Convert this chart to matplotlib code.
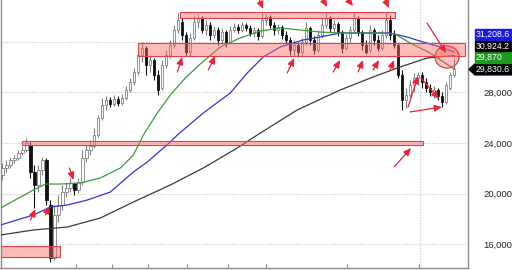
import matplotlib
matplotlib.use("Agg")
import matplotlib.pyplot as plt
import matplotlib.patches as mpatches
import numpy as np

plt.rcParams['font.family'] = ['Liberation Sans', 'DejaVu Sans']

# ---- price bars (one entry per bar) ----
opens = [21466, 22020, 22258, 22654, 22812, 23208, 23446, 23842, 21702, 20674,
         21862, 22654, 19090, 14892, 18298, 19090, 20120, 20436, 20832, 20278,
         20912, 22812, 23446, 23763, 24634, 25980, 27010, 27406, 27089, 27485,
         27168, 27564, 28198, 28832, 29624, 30970, 31524, 30178, 30574, 29386,
         28356, 30178, 30970, 31762, 32950, 33584, 32554, 31208, 32316, 33584,
         33900, 32950, 33346, 32554, 32950, 32158, 32792, 32000, 32950, 33188,
         32950, 33346, 33108, 32712, 32950, 32475, 33742, 33980, 33346, 32950,
         33188, 32554, 32158, 31366, 31762, 31208, 32000, 33108, 32158, 31366,
         32554, 33346, 33900, 33108, 33425, 32792, 31524, 32316, 32950, 33900,
         32792, 31762, 31366, 32950, 32158, 31524, 32554, 33742, 32554, 31762,
         29386, 27406, 27802, 28594, 29148, 29386, 28832, 28356, 28040, 28198,
         27723, 27248, 28356, 29386]
highs = [22416, 22654, 22892, 23050, 23446, 23763, 24396, 24080, 22258, 22258,
         22892, 22812, 19486, 19090, 19882, 20674, 20832, 21228, 20912, 21228,
         23446, 23842, 24238, 25188, 26218, 27564, 27723, 27644, 27802, 27723,
         27881, 28516, 29148, 29940, 31366, 32000, 31683, 30970, 30732, 29782,
         30574, 31366, 32158, 33346, 34296, 33900, 32792, 32712, 34138, 34217,
         34059, 33742, 33584, 33267, 33188, 33108, 32950, 33267, 33504, 33425,
         33584, 33504, 33346, 33188, 33108, 34376, 34217, 34138, 33584, 33425,
         33346, 32871, 32396, 32158, 32000, 32316, 33584, 33267, 32475, 32950,
         33900, 34296, 34059, 33742, 33584, 32950, 32633, 33267, 34296, 34059,
         32950, 32158, 33346, 33108, 32554, 32950, 34296, 34138, 32950, 31920,
         29782, 28356, 28990, 29544, 29624, 29624, 29148, 28673, 28516, 28356,
         28040, 28832, 29624, 30732]
lows = [21070, 21702, 22020, 22416, 22654, 23050, 23288, 21228, 18852, 20120,
        21466, 19090, 14576, 14734, 17744, 18694, 19724, 20120, 19882, 20040,
        20674, 22496, 23050, 23604, 24476, 25822, 26614, 26852, 26931, 26931,
        27010, 27406, 28040, 28594, 29386, 30416, 29386, 29624, 28990, 27802,
        28198, 29940, 30732, 31524, 32712, 32158, 30970, 30890, 32158, 33108,
        32712, 32554, 32158, 32316, 31762, 31841, 31604, 31841, 32792, 32712,
        32792, 32871, 32475, 32396, 32158, 32316, 33346, 33108, 32554, 32633,
        32237, 31920, 30970, 30890, 30812, 30970, 31762, 31762, 31049, 31208,
        32316, 33108, 32792, 32712, 32475, 31128, 31366, 32000, 32792, 32475,
        31366, 31049, 31208, 31762, 31287, 31366, 32316, 32158, 31524, 29148,
        26614, 26772, 27406, 28040, 28594, 28356, 28040, 27723, 27564, 27406,
        26852, 27089, 28198, 29228]
closes = [22020, 22258, 22654, 22812, 23208, 23446, 24000, 21702, 20674, 21862,
          22654, 19486, 14892, 18298, 19090, 20120, 20436, 20832, 20278, 20912,
          22812, 23446, 23763, 24634, 25980, 27010, 27406, 27089, 27485, 27168,
          27564, 28198, 28832, 29624, 30970, 31524, 30178, 30574, 29386, 28198,
          30178, 30970, 31762, 32950, 33742, 32554, 31208, 32316, 33584, 33900,
          32950, 33346, 32554, 32950, 32158, 32792, 32000, 32950, 33188, 32950,
          33346, 33108, 32712, 32950, 32475, 33742, 33980, 33346, 32950, 33188,
          32554, 32158, 31366, 31762, 31208, 32000, 33108, 32158, 31366, 32554,
          33346, 33900, 33108, 33425, 32792, 31524, 32316, 32950, 33900, 32792,
          31762, 31208, 32950, 32158, 31524, 32554, 33742, 32554, 31762, 29386,
          27406, 27802, 28594, 29148, 29386, 28832, 28356, 28040, 28198, 27723,
          27248, 28594, 29386, 29830.6]

# ---- moving averages (bar position, value) ----
ma_green_x = [-0.5, 7.75, 10.75, 14.5, 19.5, 24.5, 29.5, 32.75, 35.25, 38.75, 42, 45.75, 49.5,
              54.5, 59.5, 64.5, 69.5, 74.5, 79.5, 84.5, 89.5, 94.5, 98.25, 102, 107, 113]
ma_green = [18850, 20280, 20750, 20750, 20830, 21230, 22020, 23050, 24630, 26380, 27800, 29150, 30260,
            31600, 32320, 32870, 33110, 32950, 32790, 32710, 32710, 32710, 32630, 31920, 31130, 29870]
ma_blue_x = [-0.5, 7.75, 12, 16.25, 21.25, 27, 32.75, 36.25, 42, 43.75, 50.25, 57, 61.25,
             65.25, 69.5, 75.25, 79.5, 84.5, 89.5, 97, 101.25, 105.25, 109.5, 113]
ma_blue = [17506, 18298, 18932, 19090, 19486, 20120, 21704, 22496, 24080, 24634, 26376, 27960, 29544,
           30812, 31604, 32158, 32396, 32712, 32712, 32712, 32396, 32000, 31604, 31208.6]
ma_black_x = [-0.5, 7.75, 16.25, 24.5, 32.75, 42, 50.25, 58.75, 63.75, 73.75, 84.5, 92.75, 99.5, 106.25, 113]
ma_black = [16714, 17110, 17348, 18060, 19328, 20674, 22020, 23604, 24634, 26614, 28198, 29228, 30020,
            30732, 30924.2]

# ---- drawn zones: start bar, end bar, low, high ----
zone_start = [44.5, 34, 5, -0.5]
zone_end = [98.3, 115.8, 105.3, 14.5]
zone_low = [33880, 30930, 23820, 15000]
zone_high = [34380, 31920, 24180, 15850]

# ---- red arrows: (tail bar, tail price, head bar, head price) ----
arrows = [(7, 17900, 8.25, 18770), (10.75, 18300, 11.75, 19010), (16.75, 22020, 17.75, 21070),
          (43.75, 29620, 45, 30810), (51.5, 29780, 53.25, 30890), (71.25, 29540, 73, 30730),
          (82.75, 29620, 84.5, 30570), (89, 29620, 90.25, 30570), (92.75, 29780, 94.25, 30570),
          (97, 29780, 98, 30570), (64.25, 35330, 65.25, 34610), (80.25, 35330, 81.25, 34770),
          (86.5, 35330, 87.75, 34850), (95.75, 35330, 96.75, 34690), (106.25, 33500, 111, 31130),
          (98, 22100, 102.25, 23600), (101.5, 26850, 104, 29310), (104.75, 29150, 109.25, 27490),
          (102, 26460, 110, 26850)]

circle_center = (111.25, 30810)

price_tags = [("31,208.6", 31208.6, '#1c1cd8'), ("30,924.2", 30924.2, '#000000'),
              ("29,870", 29870, '#1f9a1f')]
last_tag = ("29,830.6", 29830.6)

y_ticks = [16000, 20000, 24000, 28000, 32000]
x_ticks = [18.5, 27.5, 36.5, 46.25, 56.5, 66, 86.25, 104.25]

RED = '#e4263a'

fig = plt.figure(figsize=(5.12, 2.70), dpi=100)
ax = fig.add_axes([0.5 / 512, 2 / 270, 467.5 / 512, 268 / 270])
ax.set_xlim(-0.5, 116.5)
ax.set_ylim(14100, 35326)

# grid
for yv in y_ticks:
    ax.axhline(yv, color='#c4c4c4', lw=0.8, ls=(0, (1, 1.5)), zorder=0)
ax.axvline(104.5, color='#c4c4c4', lw=0.8, ls=(0, (1, 1.5)), zorder=0)

# candles
idx = np.arange(len(closes))
o = np.array(opens, float)
c = np.array(closes, float)
h = np.array(highs, float)
lo = np.array(lows, float)
up = c >= o
ax.vlines(idx[up], lo[up], h[up], color='#808080', lw=0.8, zorder=2)
ax.vlines(idx[~up], lo[~up], h[~up], color='#111111', lw=0.8, zorder=2)
body_bot = np.minimum(o, c)
body_h = np.maximum(np.abs(c - o), 40)
ax.bar(idx[up], body_h[up], bottom=body_bot[up], width=0.55, facecolor='white',
       edgecolor='#808080', lw=0.6, zorder=2.5)
ax.bar(idx[~up], body_h[~up], bottom=body_bot[~up], width=0.55, facecolor='#111111',
       edgecolor='#111111', lw=0.6, zorder=2.5)

# moving averages
ax.plot(ma_black_x, ma_black, color='#3a3a3a', lw=0.9, zorder=3)
ax.plot(ma_blue_x, ma_blue, color='#3434d0', lw=0.9, zorder=3)
ax.plot(ma_green_x, ma_green, color='#3c9a3c', lw=0.9, zorder=3)

# zones
for x0, x1, y0, y1 in zip(zone_start, zone_end, zone_low, zone_high):
    ax.add_patch(mpatches.Rectangle((x0, y0), x1 - x0, y1 - y0, facecolor=(1, 0.4, 0.4, 0.45),
                                    edgecolor='#e0404c', lw=0.8, zorder=4))

ax.add_patch(mpatches.Ellipse(circle_center, 6, 1750, facecolor=(1, 0.4, 0.4, 0.4),
                              edgecolor='#e0404c', lw=0.9, zorder=4))

for tx, ty, hx, hy in arrows:
    ax.annotate('', xy=(hx, hy), xytext=(tx, ty),
                arrowprops=dict(arrowstyle='-|>,head_length=0.45,head_width=0.2',
                                color=RED, lw=0.9, shrinkA=0, shrinkB=0), zorder=5,
                annotation_clip=False)

# axes styling
for side in ['left', 'bottom', 'right']:
    ax.spines[side].set_color('#8c8c8c')
    ax.spines[side].set_linewidth(1.0)
ax.spines['top'].set_visible(False)
ax.yaxis.tick_right()
ax.set_yticks(y_ticks)
ax.set_yticklabels([f"{v:,}" if v != 32000 else "" for v in y_ticks])
ax.tick_params(axis='y', length=0, pad=11, labelsize=6.8, labelcolor='#222222')
ax.set_xticks(x_ticks)
ax.set_xticklabels([])
ax.tick_params(axis='x', direction='in', length=3, color='#8c8c8c')

# price tags on the right
fig.canvas.draw()
def fig_y(price):
    return ax.transData.transform((0, price))[1] / fig.bbox.height

tag_h = 11 / 270
tag_fs = 6.3
y_last = fig_y(last_tag[1])
x0 = 475 / 512
tip = 469 / 512
poly = mpatches.Polygon([(tip, y_last), (x0, y_last + tag_h / 2), (1.05, y_last + tag_h / 2),
                         (1.05, y_last - tag_h / 2), (x0, y_last - tag_h / 2)],
                        closed=True, transform=fig.transFigure, facecolor='black',
                        edgecolor='black', clip_on=False)
fig.patches.append(poly)
fig.text(476 / 512, y_last, last_tag[0], color='white', fontsize=tag_fs, va='center', ha='left')

for k, (label, val, col) in enumerate(reversed(price_tags)):
    yy = y_last + (k + 1) * 11.7 / 270
    fig.patches.append(mpatches.Rectangle((x0, yy - tag_h / 2), 0.1, tag_h, transform=fig.transFigure,
                                          facecolor=col, edgecolor=col, clip_on=False))
    fig.text(476 / 512, yy, label, color='white', fontsize=tag_fs, va='center', ha='left')

fig.savefig('out.png', dpi=100)
